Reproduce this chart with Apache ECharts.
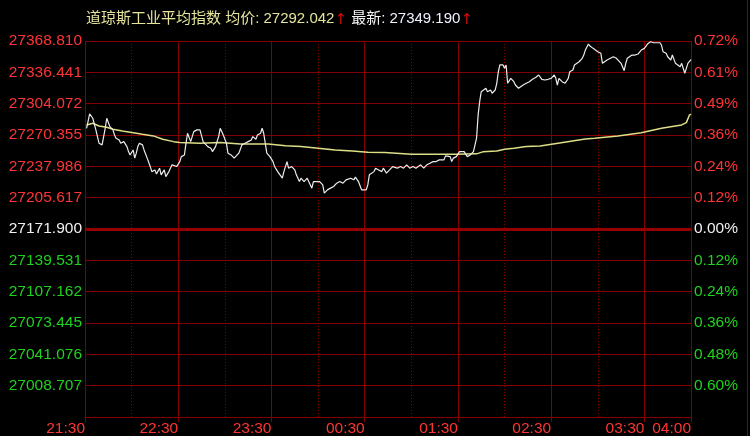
<!DOCTYPE html>
<html>
<head>
<meta charset="utf-8">
<script src="https://cdn.jsdelivr.net/npm/echarts@6/dist/echarts.min.js"></script>
<style>
html,body{margin:0;padding:0;background:#000;}
#c{width:750px;height:436px;}
</style>
</head>
<body>
<div id="c"></div>
<script>
const indexName = '道琼斯工业平均指数';
const avgLabel = '均价: ';
const avgPriceText = '27292.042';
const lastLabel = '最新: ';
const lastPriceText = '27349.190';

const baseValue = 27171.9;
const topValue = 27368.81;

const leftLabels = ['27368.810','27336.441','27304.072','27270.355','27237.986','27205.617','27171.900','27139.531','27107.162','27073.445','27041.076','27008.707',''];
const rightLabels = ['0.72%','0.61%','0.49%','0.36%','0.24%','0.12%','0.00%','0.12%','0.24%','0.36%','0.48%','0.60%',''];

const tickMinutes = [0,60,120,180,240,300,360,390];
const tickLabels = ['21:30','22:30','23:30','00:30','01:30','02:30','03:30','04:00'];

const priceMinutes = [1,3,5,6,7,9,11,13,14,16,18,19,20,22,23,25,27,28,29,31,32,33,34,35,37,38,40,42,43,45,46,48,49,51,52,54,56,57,59,61,62,64,65,66,68,70,72,74,76,77,79,81,82,84,86,87,89,90,91,92,94,96,97,99,101,103,105,107,108,110,111,113,114,115,116,117,119,121,122,124,127,128,130,131,133,135,136,138,139,141,143,144,146,147,149,151,153,154,156,158,160,162,164,166,168,171,173,174,176,178,179,181,182,183,186,187,189,191,192,194,196,198,201,203,205,207,209,211,213,216,218,220,222,224,226,228,231,232,233,235,236,237,239,240,241,242,244,246,247,248,250,251,252,253,254,255,256,258,259,261,262,264,265,266,267,268,269,270,271,272,274,276,277,279,280,282,284,286,288,290,292,294,296,298,300,302,303,304,305,307,309,311,312,314,315,318,320,321,322,324,325,327,328,330,332,333,334,336,337,340,342,343,345,347,348,349,352,354,356,357,358,360,362,364,366,368,370,371,372,374,375,377,378,380,381,383,384,386,387,388,390];
const priceValues = [27277.4,27292.4,27287.9,27289.6,27275.7,27261.8,27260.0,27277.4,27287.9,27279.1,27275.7,27270.4,27267.0,27265.2,27261.8,27263.4,27258.2,27253.0,27249.5,27254.7,27246.1,27251.3,27258.2,27261.8,27260.0,27254.7,27246.1,27237.3,27232.0,27233.8,27229.6,27235.6,27228.6,27233.8,27226.8,27232.0,27239.1,27240.8,27237.3,27242.5,27247.7,27249.5,27261.8,27272.2,27263.4,27273.9,27275.7,27275.7,27263.4,27261.8,27258.2,27256.5,27253.0,27258.2,27268.7,27277.4,27270.4,27272.2,27261.8,27251.3,27249.5,27246.1,27244.3,27251.3,27260.0,27261.8,27263.4,27265.2,27268.7,27265.9,27270.4,27272.2,27277.4,27272.2,27261.8,27251.3,27247.7,27242.5,27237.3,27232.0,27225.1,27232.0,27242.5,27235.6,27237.3,27233.8,27228.6,27221.6,27225.1,27221.6,27225.1,27226.8,27214.7,27221.6,27221.6,27221.6,27218.1,27209.5,27212.9,27214.7,27216.4,27219.9,27221.6,27219.9,27223.4,27225.1,27223.4,27226.2,27221.6,27212.9,27214.7,27212.9,27218.1,27228.6,27232.0,27235.6,27233.8,27232.0,27235.6,27230.4,27233.8,27237.3,27235.6,27237.3,27235.6,27239.1,27235.6,27237.3,27235.6,27239.1,27235.6,27239.1,27240.8,27242.5,27242.5,27244.3,27244.3,27248.5,27249.5,27247.7,27242.5,27246.1,27247.7,27249.5,27253.0,27254.7,27253.0,27247.7,27246.1,27249.5,27253.0,27254.7,27267.0,27291.4,27305.3,27315.7,27317.5,27319.3,27315.7,27317.5,27314.1,27317.5,27324.5,27336.6,27343.7,27341.9,27343.7,27340.2,27343.7,27324.5,27329.7,27326.2,27322.7,27319.3,27317.5,27322.7,27324.5,27326.2,27328.7,27330.6,27333.2,27328.7,27328.0,27328.7,27329.7,27333.2,27329.7,27322.7,27329.7,27326.2,27324.5,27329.7,27336.6,27338.4,27343.7,27347.1,27350.7,27354.1,27359.3,27365.6,27363.5,27361.1,27361.1,27357.6,27355.9,27345.4,27347.1,27348.9,27350.7,27352.3,27350.7,27348.9,27345.4,27337.7,27345.4,27350.7,27354.1,27354.1,27355.2,27355.9,27359.3,27361.1,27365.6,27368.0,27367.0,27367.0,27367.0,27364.6,27357.6,27355.9,27352.3,27348.9,27354.1,27345.4,27347.1,27341.9,27345.4,27335.0,27340.2,27345.4,27349.19];

const avgMinutes = [1,5,9,14,18,24,31,37,44,50,57,61,74,87,100,118,129,139,150,161,172,182,193,210,228,239,252,256,265,270,276,284,293,322,328,343,358,371,384,387,389,390];
const avgValues = [27280.9,27282.7,27279.8,27278.5,27276.4,27274.6,27272.8,27271.2,27269.4,27265.9,27263.4,27262.4,27261.8,27262.4,27261.0,27261.0,27259.2,27258.2,27256.5,27254.7,27253.7,27252.3,27251.9,27250.2,27250.2,27250.2,27250.6,27252.7,27253.7,27255.5,27256.5,27258.2,27258.9,27266.2,27267.0,27269.4,27272.8,27277.4,27280.9,27283.3,27291.4,27292.042];

const FONT = '"Liberation Sans", Arial, "Noto Sans CJK SC", sans-serif';
const RED = '#ff3434';
const GREEN = '#1ed21e';
const WHITE = '#f0f0f0';
const GRID = '#840000';

function labelColor(idx) {
  if (idx < 6) return RED;
  if (idx === 6) return WHITE;
  return GREEN;
}

const chart = echarts.init(document.getElementById('c'), null, {renderer: 'canvas'});
const option = {
  backgroundColor: '#000',
  animation: false,
  title: {
    left: 86,
    top: 10,
    padding: 0,
    text: '{a|' + indexName + ' ' + avgLabel + avgPriceText + '}{r|↑}{w| ' + lastLabel + '}{b|' + lastPriceText + '}{r|↑}',
    textStyle: {
      fontFamily: FONT,
      fontSize: 15,
      fontWeight: 'normal',
      rich: {
        a: {color: '#e4e49a', fontSize: 15, fontFamily: FONT},
        r: {color: '#d01010', fontSize: 15, fontFamily: '"DejaVu Sans", sans-serif', padding: [3, 0, 0, 0]},
        w: {color: '#f4f4f4', fontSize: 15, fontFamily: FONT},
        b: {color: '#eef2ff', fontSize: 15, fontFamily: FONT}
      }
    }
  },
  grid: {left: 85, right: 59, top: 41, bottom: 19, containLabel: false, outerBoundsMode: 'none'},
  xAxis: [
    {
      type: 'value', min: 0, max: 390, interval: 30, position: 'top',
      axisLine: {show: false}, axisTick: {show: false}, axisLabel: {show: false},
      splitLine: {show: true, lineStyle: {color: ['rgba(0,0,0,0)', GRID], type: [1, 2], width: 1}}
    },
    {
      type: 'value', min: 0, max: 390, interval: 60, position: 'bottom',
      axisLine: {show: true, lineStyle: {color: GRID, width: 1}},
      axisTick: {show: true, length: 5, lineStyle: {color: GRID}},
      axisLabel: {
        show: true, color: RED, fontSize: 15.5, fontFamily: FONT, align: 'right', margin: 4,
        showMinLabel: true, showMaxLabel: true, hideOverlap: false,
        formatter: function (v) {
          const i = tickMinutes.indexOf(Math.round(v));
          return i >= 0 ? tickLabels[i] : '';
        }
      },
      splitLine: {show: true, lineStyle: {color: GRID, width: 1}}
    }
  ],
  yAxis: [
    {
      type: 'value', min: 2 * baseValue - topValue, max: topValue, show: false,
      splitLine: {show: false}
    },
    {
      type: 'category', position: 'left', data: leftLabels, inverse: true, boundaryGap: false,
      axisLine: {show: false}, axisTick: {show: false},
      axisLabel: {
        interval: 0, fontSize: 15.5, fontFamily: FONT, margin: 3,
        color: function (v, idx) { return labelColor(idx); }
      },
      splitLine: {show: true, lineStyle: {color: GRID, width: 1}}
    },
    {
      type: 'category', position: 'right', data: rightLabels, inverse: true, boundaryGap: false,
      axisLine: {show: false}, axisTick: {show: false},
      axisLabel: {
        interval: 0, fontSize: 15.5, fontFamily: FONT, margin: 3,
        color: function (v, idx) { return labelColor(idx); }
      },
      splitLine: {show: false}
    }
  ],
  graphic: [
    {type: 'rect', right: 2, top: 0, shape: {width: 1, height: 436}, style: {fill: GRID}, silent: true}
  ],
  series: [
    {
      type: 'line', xAxisIndex: 1, yAxisIndex: 0,
      data: priceMinutes.map(function (m, i) { return [m, priceValues[i]]; }),
      showSymbol: false, symbol: 'none',
      lineStyle: {color: '#ececec', width: 1.2},
      markLine: {
        silent: true, symbol: 'none', label: {show: false},
        lineStyle: {color: '#960000', width: 3, type: 'solid'},
        data: [{yAxis: baseValue}]
      },
      z: 3
    },
    {
      type: 'line', xAxisIndex: 1, yAxisIndex: 0,
      data: avgMinutes.map(function (m, i) { return [m, avgValues[i]]; }),
      showSymbol: false, symbol: 'none',
      lineStyle: {color: '#dede86', width: 1.5},
      z: 2
    }
  ]
};
chart.setOption(option);
</script>
</body>
</html>
